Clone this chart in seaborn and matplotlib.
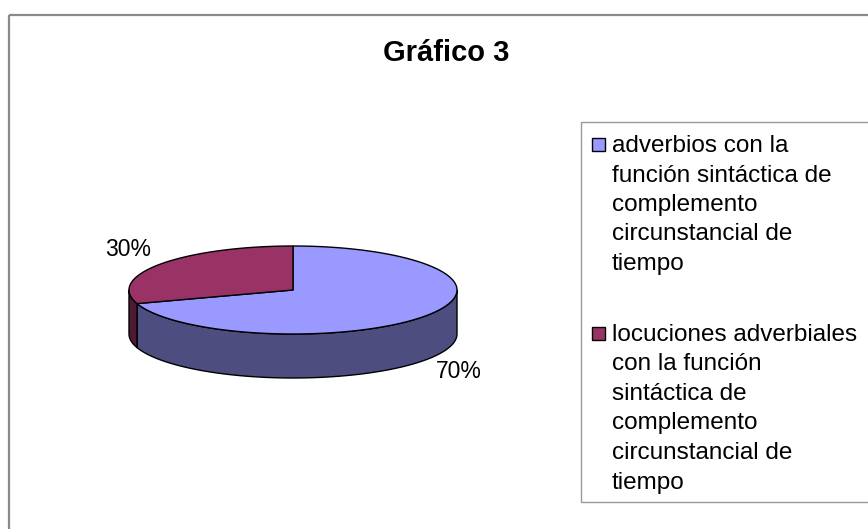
import numpy as np
import matplotlib
matplotlib.use("Agg")
import matplotlib.pyplot as plt
from matplotlib.patches import Polygon, Rectangle
import seaborn as sns

# data
categories = [
    "adverbios con la\nfunción sintáctica de\ncomplemento\ncircunstancial de\ntiempo",
    "locuciones adverbiales\ncon la función\nsintáctica de\ncomplemento\ncircunstancial de\ntiempo",
]
values = [70, 30]
pct_labels = ["70%", "30%"]
top_colors = ["#9999FF", "#993366"]
side_colors = ["#4D4D80", "#4D1A33"]

sns.set_theme(style="white")
plt.rcParams["font.family"] = ["Liberation Sans", "DejaVu Sans"]
plt.rcParams["text.color"] = "black"

fig = plt.figure(figsize=(8.68, 5.29), dpi=100)
ax = fig.add_axes([0, 0, 1, 1])
ax.set_xlim(0, 868)
ax.set_ylim(529, 0)
ax.axis("off")

# outer chart frame
ax.add_patch(Rectangle((9, 15), 900, 600, fill=False, edgecolor="#8a8a8a", lw=1.6))

ax.text(446, 53, "Gráfico 3", ha="center", va="center", fontsize=21, fontweight="bold")

# 3D pie geometry
cx, cy, a, b, depth = 293, 290, 164, 44, 44


def pt(theta, dy=0):
    t = np.radians(theta)
    return cx + a * np.cos(t), cy - b * np.sin(t) + dy


# slice angle ranges (start at 12 o'clock, clockwise)
total = sum(values)
ranges = []
start = 90.0
for v in values:
    end = start - 360.0 * v / total
    ranges.append((end, start))
    start = end

# side walls (front half only: 180..360 deg)
for (t1, t2), sc in zip(ranges, side_colors):
    for shift in (-360, 0, 360):
        lo = max(t1 + shift, 180)
        hi = min(t2 + shift, 360)
        if hi > lo:
            th = np.linspace(lo, hi, 80)
            upper = [pt(t) for t in th]
            lower = [pt(t, depth) for t in th[::-1]]
            ax.add_patch(Polygon(upper + lower, closed=True, facecolor=sc,
                                 edgecolor="black", lw=1.0, joinstyle="round"))

# top faces
for (t1, t2), tc in zip(ranges, top_colors):
    th = np.linspace(t1, t2, 200)
    verts = [(cx, cy)] + [pt(t) for t in th]
    ax.add_patch(Polygon(verts, closed=True, facecolor=tc, edgecolor="black",
                         lw=1.0, joinstyle="round"))

# data labels
ax.text(459, 372, pct_labels[0], ha="center", va="center", fontsize=16.5)
ax.text(128, 249, pct_labels[1], ha="center", va="center", fontsize=16.5)

# legend box
ax.add_patch(Rectangle((581, 122), 400, 380, fill=False, edgecolor="#999999", lw=1.0))
legend_baselines = [152, 341]
pitch = 29.5
for lab, tc, yb in zip(categories, top_colors, legend_baselines):
    ax.add_patch(Rectangle((592, yb - 14), 13, 13, facecolor=tc, edgecolor="black", lw=1.0))
    for i, line in enumerate(lab.split("\n")):
        ax.text(612, yb + i * pitch, line, ha="left", va="baseline", fontsize=17.5)

fig.savefig("out.png", dpi=100)
